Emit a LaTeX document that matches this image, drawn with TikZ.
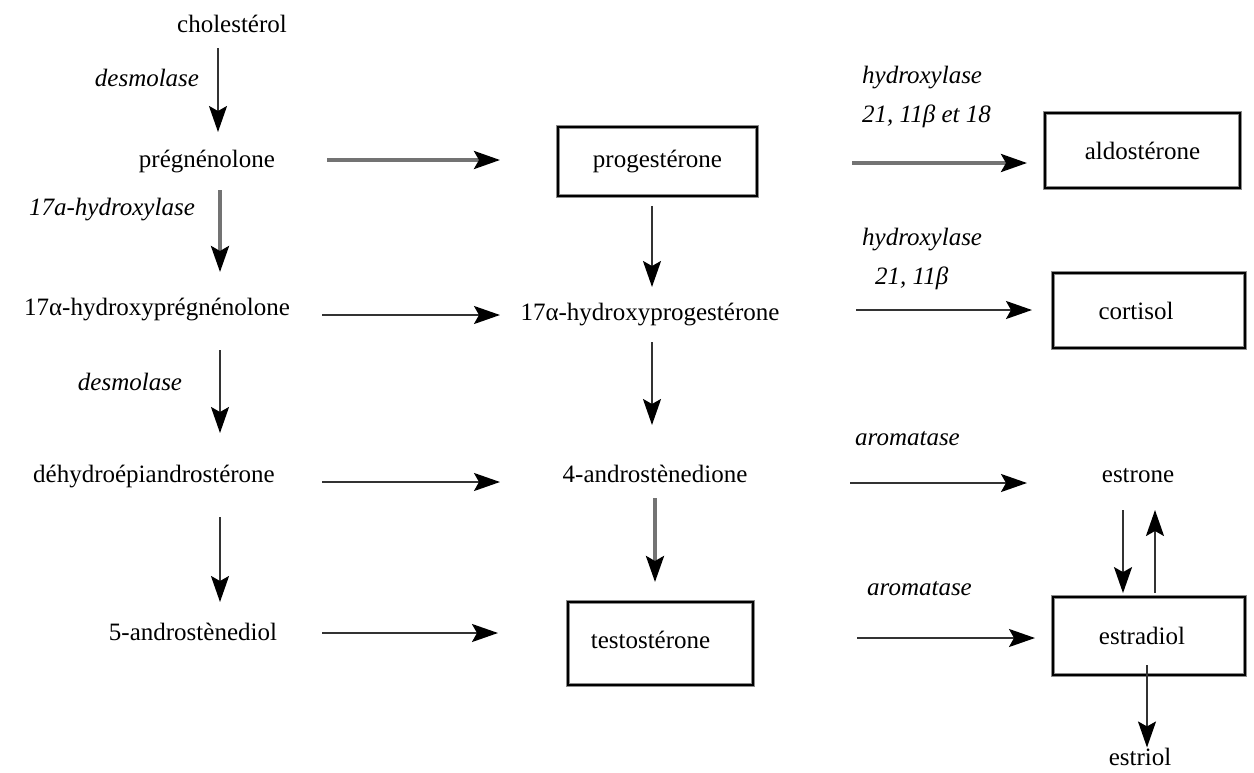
\documentclass[tikz,border=0pt]{standalone}
\usepackage{fontspec}
\setmainfont{Liberation Serif}
\usetikzlibrary{arrows.meta}
\begin{document}
\begin{tikzpicture}[x=1pt,y=-1pt,
  every node/.style={inner sep=0pt,font=\fontsize{25}{30}\selectfont},
  lbl/.style={anchor=base},
  enz/.style={anchor=base,font=\fontsize{25}{39}\selectfont\itshape},
  box/.style={draw=black,line width=1.8pt,preaction={draw=black!45,line width=3.6pt}},
  arr/.style={line width=2pt,draw=black!80,-{Stealth[length=26pt,width=18pt,inset=5pt,color=black]}},
  garr/.style={arr,draw=black!55,line width=3.5pt}]
\useasboundingbox (0,0) rectangle (1254,772);

% left column
\node[lbl] (chol) at (232,32) {cholestérol};
\node[enz] (desm1) at (147,86) {desmolase};
\node[lbl] (preg) at (207,167) {prégnénolone};
\node[enz] (hyd17) at (112,215) {17a-hydroxylase};
\node[lbl] (hpreg) at (157,315) {17α-hydroxyprégnénolone};
\node[enz] (desm2) at (130,390) {desmolase};
\node[lbl] (dhea) at (154,482) {déhydroépiandrostérone};
\node[lbl] (adiol) at (193,640) {5-androstènediol};

% middle column
\node[box,minimum width=199pt,minimum height=69pt] (prog) at (657.5,161.5) {progestérone};
\node[lbl] (hprog) at (650,320) {17α-hydroxyprogestérone};
\node[lbl] (adione) at (655,482) {4-androstènedione};
\node[box,minimum width=185pt,minimum height=83pt] (testo) at (660.5,643.5) {\raisebox{7pt}{testostérone}\hspace*{20pt}};

% right column
\node[enz,anchor=north west,align=left] (hydA) at (862,66) {hydroxylase\\21, 11β et 18};
\node[box,minimum width=195pt,minimum height=75pt] (aldo) at (1142.5,150.5) {aldostérone};
\node[enz,anchor=north west,align=left] (hydB) at (862,228) {hydroxylase\\\hspace*{13pt}21, 11β};
\node[box,minimum width=192pt,minimum height=75pt] (cort) at (1149,310.5) {cortisol\hspace*{26pt}};
\node[enz,anchor=base west] (aromA) at (855,445) {aromatase};
\node[lbl] (estrone) at (1138,482) {estrone};
\node[enz,anchor=base west] (aromB) at (867,595) {aromatase};
\node[box,minimum width=192pt,minimum height=78pt] (estradiol) at (1149,636) {estradiol\hspace*{14pt}};
\node[lbl] (estriol) at (1140,765) {estriol};

% arrow end points
\coordinate (a1) at (218,48);  \coordinate (a2) at (218,132);
\coordinate (b1) at (220,190); \coordinate (b2) at (220,272);
\coordinate (c1) at (220,350); \coordinate (c2) at (220,433);
\coordinate (d1) at (220,517); \coordinate (d2) at (220,602);
\coordinate (h1) at (327,160); \coordinate (h2) at (500,160);
\coordinate (i1) at (322,315); \coordinate (i2) at (500,315);
\coordinate (j1) at (322,482); \coordinate (j2) at (500,482);
\coordinate (k1) at (322,633); \coordinate (k2) at (498,633);
\coordinate (m1) at (652,342); \coordinate (m2) at (652,425);
\coordinate (n1) at (655,498); \coordinate (n2) at (655,582);
\coordinate (p1) at (852,163); \coordinate (p2) at (1027,163);
\coordinate (q1) at (856,310); \coordinate (q2) at (1032,310);
\coordinate (r1) at (850,483); \coordinate (r2) at (1027,483);
\coordinate (s1) at (857,638); \coordinate (s2) at (1035,638);
\coordinate (t1) at (1123,510);
\coordinate (u2) at (1155,510);
\coordinate (v1) at (1147,665);

% connectors
\draw[arr] (a1) -- (a2);
\draw[garr] (b1) -- (b2);
\draw[arr] (c1) -- (c2);
\draw[arr] (d1) -- (d2);
\draw[garr] (h1) -- (h2);
\draw[arr] (i1) -- (i2);
\draw[arr] (j1) -- (j2);
\draw[arr] (k1) -- (k2);
\draw[arr,shorten <=9pt] (prog.south -| 652,0) -- (652,287);
\draw[arr] (m1) -- (m2);
\draw[garr] (n1) -- (n2);
\draw[garr] (p1) -- (p2);
\draw[arr] (q1) -- (q2);
\draw[arr] (r1) -- (r2);
\draw[arr] (s1) -- (s2);
\draw[arr,shorten >=3pt] (t1) -- (t1 |- estradiol.north);
\draw[arr,shorten <=3pt] (estradiol.north -| u2) -- (u2);
\draw[arr] (v1) -- (v1 |- estriol.north);
\end{tikzpicture}
\end{document}
